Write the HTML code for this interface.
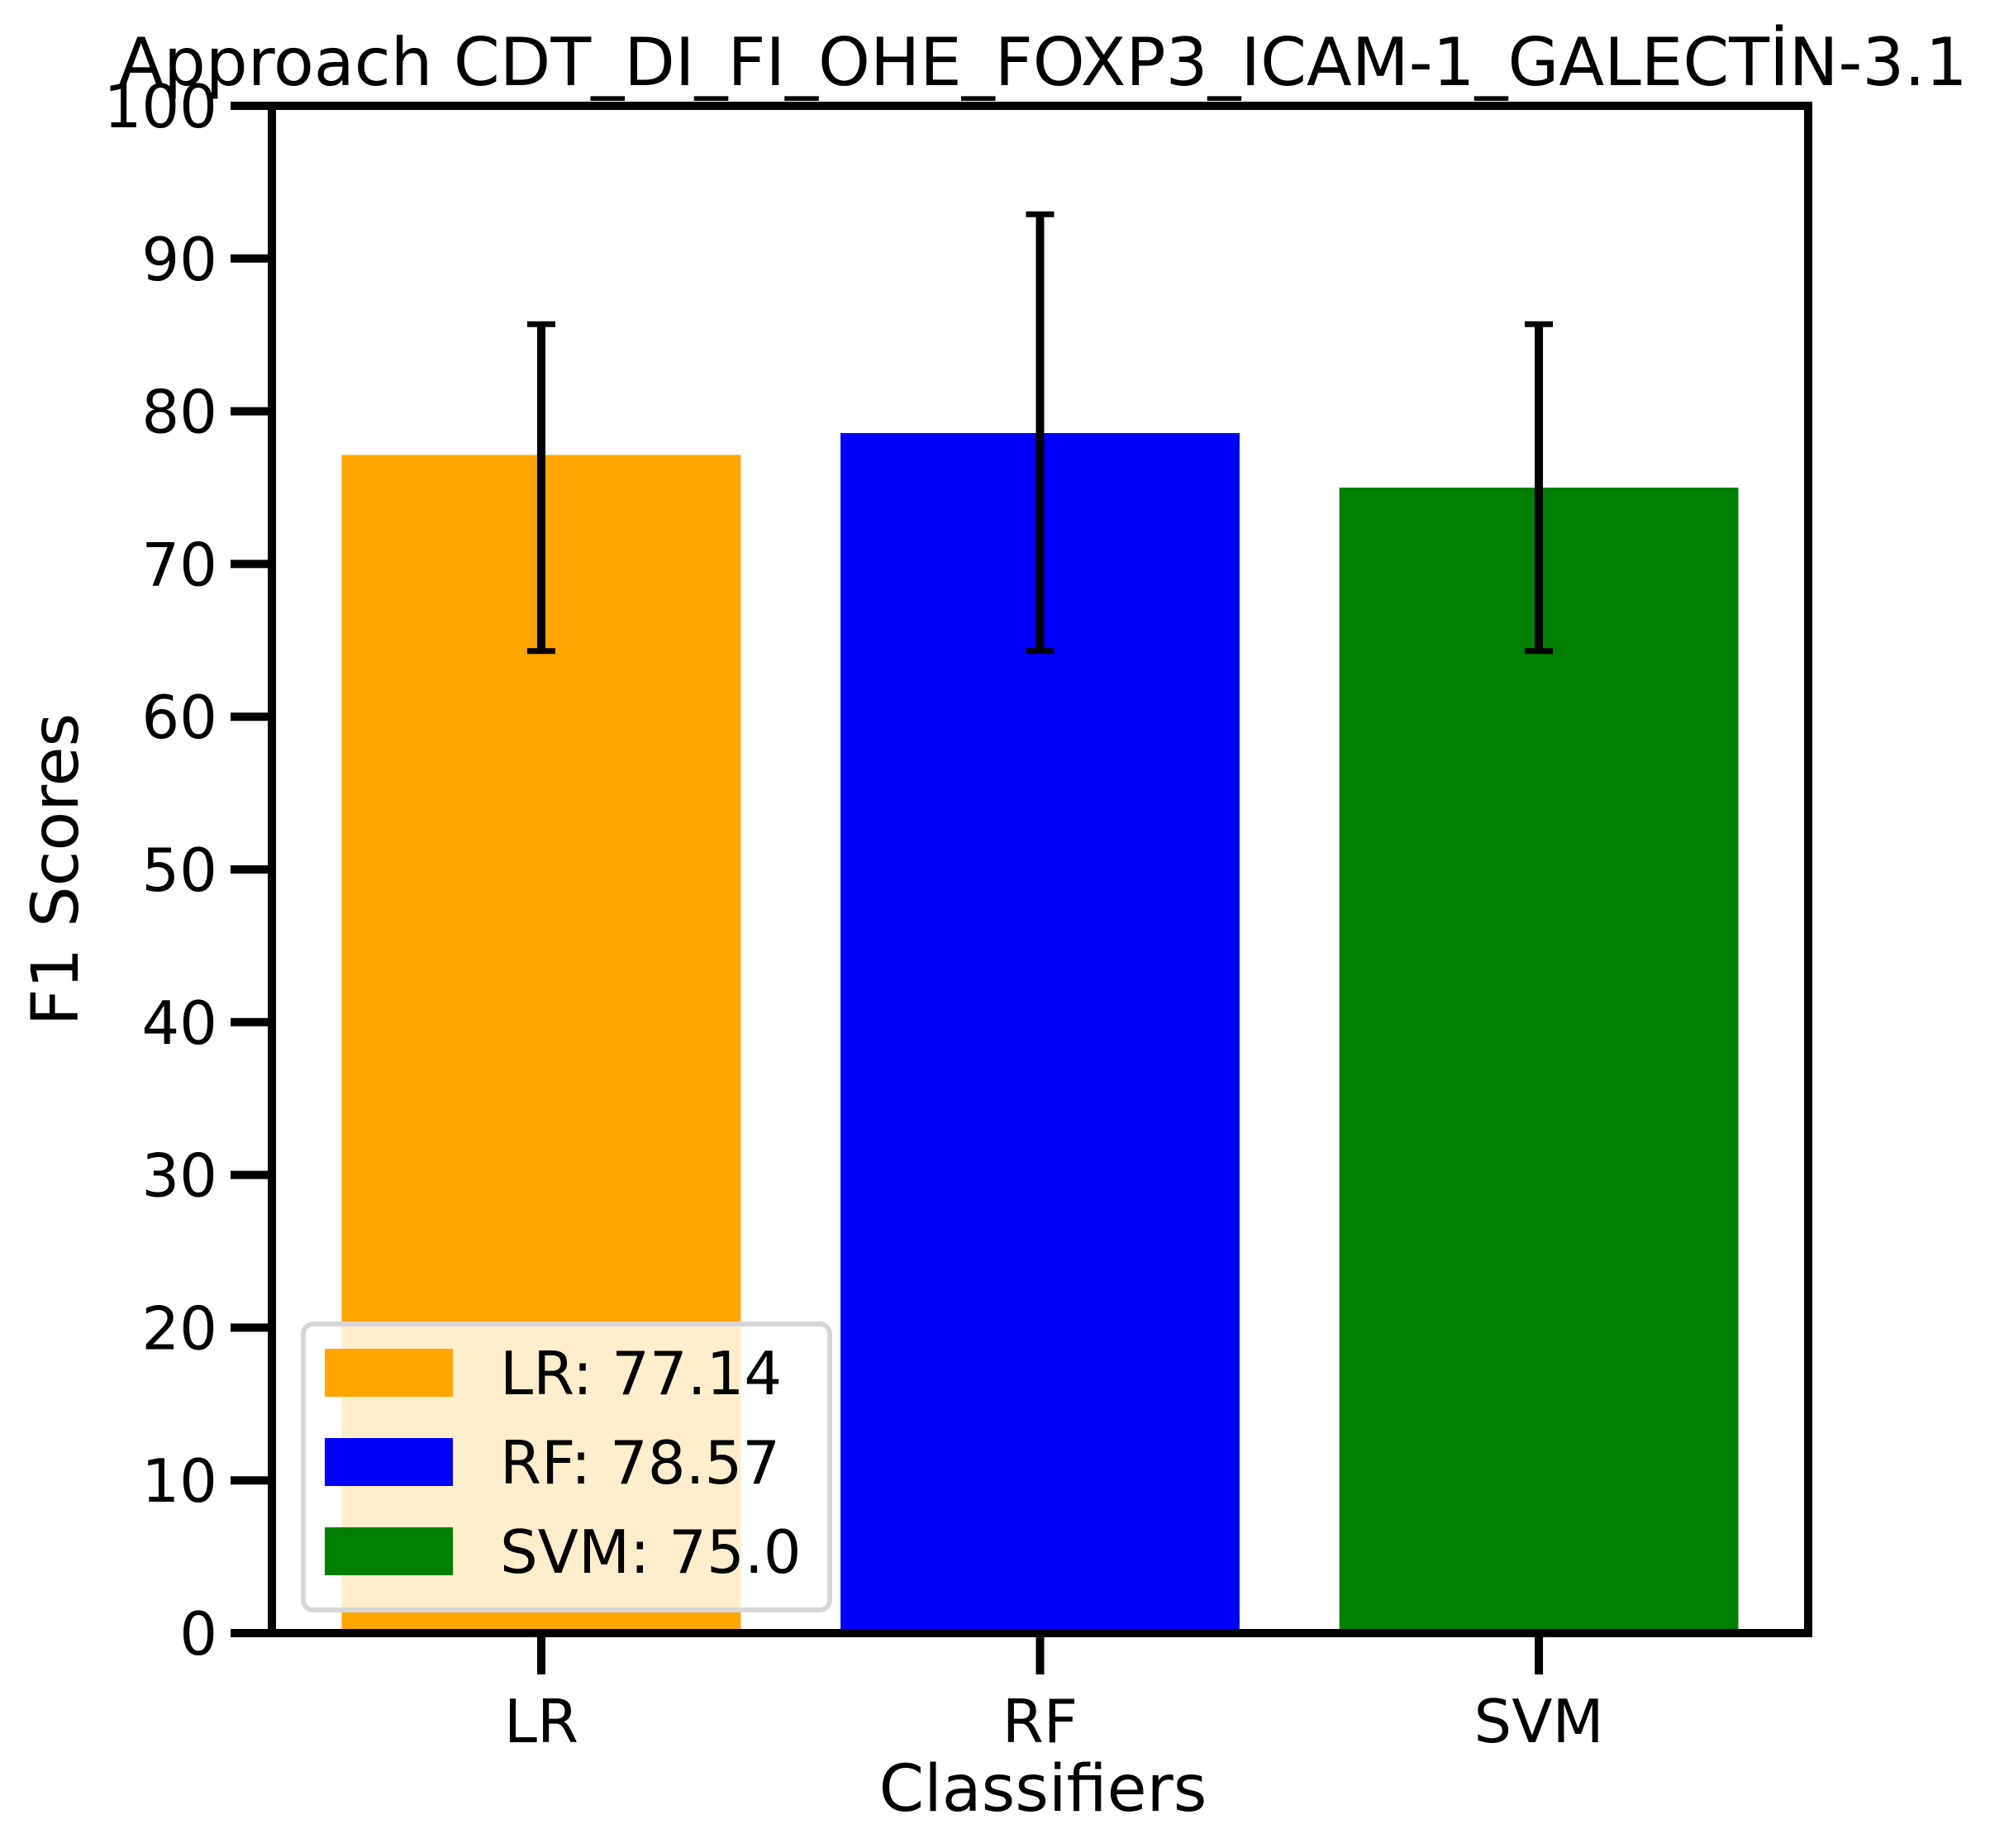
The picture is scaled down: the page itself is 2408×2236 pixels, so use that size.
<!DOCTYPE html>
<html><head><meta charset="utf-8"><style>
html,body{margin:0;padding:0;background:#fff;}
svg{display:block;font-family:"DejaVu Sans","Liberation Sans",sans-serif;}
</style></head><body>
<svg id="chart" width="2408" height="2236" viewBox="0 0 2408 2236" xmlns="http://www.w3.org/2000/svg">
<rect width="2408" height="2236" fill="#fff"/>
<text x="1262" y="103" font-size="80" text-anchor="middle">Approach CDT_DI_FI_OHE_FOXP3_ICAM-1_GALECTİN-3.1</text>
<g id="bars"></g><g id="errs"></g>
<g id="axes"></g>
<text transform="translate(94,1052) rotate(-90)" font-size="78" text-anchor="middle">F1 Scores</text>
<text x="1262" y="2191" font-size="78" text-anchor="middle">Classifiers</text>
<g id="legend"></g>
</svg>
<script>
const categories = ["LR","RF","SVM"];
const scores = [77.14, 78.57, 75.0];
const errLow = [64.3, 64.3, 64.3];
const errHigh = [85.7, 92.9, 85.7];
const colors = ["#ffa500","#0000ff","#008000"];
const yTicks = [0,10,20,30,40,50,60,70,80,90,100];
const legendLabels = ["LR: 77.14","RF: 78.57","SVM: 75.0"];

const NS="http://www.w3.org/2000/svg";
const L=329,R=2188,T=128,B=1976;
const xMin=-0.54,xMax=2.54,yMin=0,yMax=100;
const xs=v=>L+(v-xMin)/(xMax-xMin)*(R-L);
const ys=v=>B-(v-yMin)/(yMax-yMin)*(B-T);
const bw=(xs(0.8)-xs(0));
function mk(tag,attrs,parent){const e=document.createElementNS(NS,tag);for(const k in attrs)e.setAttribute(k,attrs[k]);parent.appendChild(e);return e;}
const gb=document.getElementById('bars'),ge=document.getElementById('errs'),ga=document.getElementById('axes'),gl=document.getElementById('legend');
categories.forEach((c,i)=>{
  const r=mk('rect',{x:xs(i)-bw/2,y:ys(scores[i]),width:bw,height:ys(0)-ys(scores[i]),fill:colors[i]},gb);
  
  
  const g=mk('g',{stroke:'#000','stroke-width':10},ge);
  
  
  mk('line',{x1:xs(i),x2:xs(i),y1:ys(errLow[i]),y2:ys(errHigh[i])},g);
  mk('line',{x1:xs(i)-17,x2:xs(i)+17,y1:ys(errLow[i]),y2:ys(errLow[i]),'stroke-width':7},g);
  mk('line',{x1:xs(i)-17,x2:xs(i)+17,y1:ys(errHigh[i]),y2:ys(errHigh[i]),'stroke-width':7},g);
  const t=mk('line',{x1:xs(i),x2:xs(i),y1:B,y2:B+50,stroke:'#000','stroke-width':10},ga);
  
  
  const tl=mk('text',{x:xs(i),y:2108,'font-size':72,'text-anchor':'middle'},ga);
  tl.textContent=c;
  
  
});
yTicks.forEach(v=>{
  const t=mk('line',{x1:L-50,x2:L,y1:ys(v),y2:ys(v),stroke:'#000','stroke-width':10},ga);
  
  
  const tl=mk('text',{x:263,y:ys(v)+26,'font-size':72,'text-anchor':'end'},ga);
  tl.textContent=v;
  
  
});
const frame=mk('rect',{x:L,y:T,width:R-L,height:B-T,fill:'none',stroke:'#000','stroke-width':10},ga);


const box=mk('rect',{x:367,y:1602,width:637,height:346,rx:12,fill:'#fff','fill-opacity':0.8,stroke:'#d6d6d6','stroke-width':6},gl);


legendLabels.forEach((lab,i)=>{
  const g=mk('g',{},gl);
  
  
  const y0=1632+i*108;
  mk('rect',{x:393,y:y0,width:155,height:58,fill:colors[i]},g);
  const t=mk('text',{x:605,y:y0+55,'font-size':72},g);
  t.textContent=lab;
});
</script>
</body></html>
